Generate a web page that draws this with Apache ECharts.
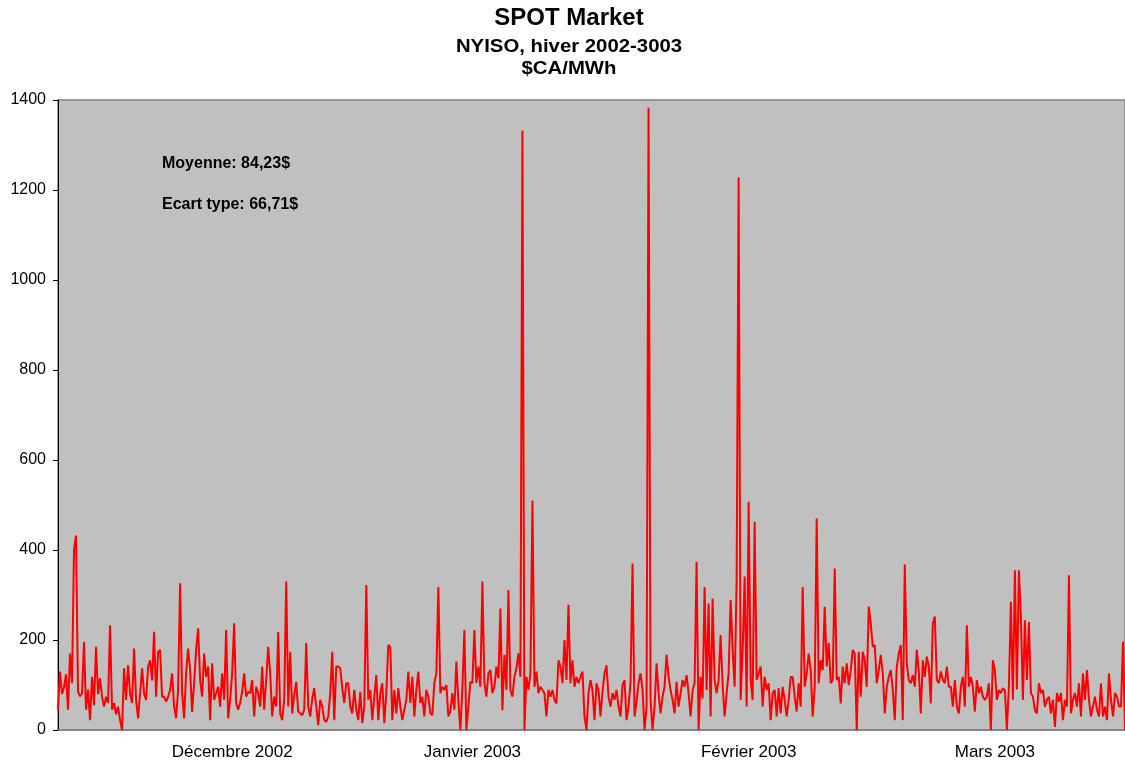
<!DOCTYPE html>
<html><head><meta charset="utf-8">
<script src="https://cdn.jsdelivr.net/npm/echarts@6/dist/echarts.min.js"></script>
<style>html,body{margin:0;padding:0;background:#fff}#c{width:1125px;height:764px}</style>
</head><body><div id="c"></div>
<script>
// Hourly spot prices ($CA/MWh), in six consecutive stretches
const pricesPart1 = [45,130,80,95,124,45,170,104,400,432,85,75,82,196,45,90,22,118,55,185,80,115,74,52,74,60,233,45,60,35,52,22,0,137,67,144,80,60,181,67,26,80,137,80,67,140,155,110,218,74,174,178,74,74,63,74,89,126,52,26,89,326,82,26,126,181,133,40,104,178,226,111,74,170,118,141,22,148,67,82,96,52,126,67,222,26,67,126,237];
const pricesPart2 = [60,45,60,85,126,74,85,82,111,30,96,82,52,141,45,111,185,126,30,74,52,218,37,22,67,330,52,174,37,78,107,41,37,33,45,193,52,30,70,93,52,11,67,52,22,18,30,82,174,22,141,141,137,93,60,104,104,52,37,89,45,22,85,15,52,322,67,89,22,74,122,22,82,104,15,82,189,185,22,89,37,93,52,22,45,67,130,60,118];
const pricesPart3 = [30,89,130,60,74,30,89,74,37,33,104,126,318,82,96,89,100,30,41,82,45,152,63,0,93,222,0,52,107,104,222,104,141,96,330,104,74,126,133,82,96,141,115,270,44,167,89,311,89,74,118,137,170,118,1332,0,118,89,126,510,96,130,82,96,89,82,30,89,74,89,67,59,155,141,104,200,111,278,104,155,96,118,104,118,130,30,0,82,111];
const pricesPart4 = [89,22,104,89,30,85,126,144,74,52,82,67,89,52,30,100,111,22,52,104,370,30,63,104,126,89,0,52,1383,67,0,52,148,82,37,74,96,167,118,89,67,37,107,52,82,111,96,122,82,30,89,104,374,0,118,70,318,89,281,30,292,111,82,111,211,100,30,82,126,289,178,96,333,1228,67,178,341,52,507,111,67,463,111,126,141,52,118,89,104];
const pricesPart5 = [22,82,89,30,93,37,96,67,30,67,118,118,74,41,104,52,318,96,126,170,133,30,96,470,104,155,133,274,141,193,104,111,359,111,118,59,141,104,148,100,133,178,170,0,174,74,174,155,96,274,237,185,189,104,133,167,126,37,96,118,133,89,22,141,170,189,22,368,148,111,104,122,96,178,130,37,155,118,163,141,59,237,252,111,104,130,111,104,141];
const pricesPart6 = [96,96,52,111,52,37,96,118,52,233,96,118,96,41,111,82,96,74,67,74,104,0,155,133,67,89,82,93,89,0,96,285,67,355,90,355,252,67,244,111,240,82,74,44,37,104,82,89,52,67,74,37,67,7,82,63,82,22,67,52,344,37,67,82,52,104,30,126,67,133,67,30,52,74,45,30,104,30,52,22,126,67,30,82,74,52,52,196,0];

const monthLabels = ['Décembre 2002', 'Janvier 2003', 'Février 2003', 'Mars 2003'];
const monthLabelIndex = [87, 207, 345, 468];

const titleText = 'SPOT Market';
const subtitleLines = ['NYISO, hiver 2002-3003', '$CA/MWh'];
const statLines = ['Moyenne: 84,23$', 'Ecart type: 66,71$'];

const yMin = 0, yMax = 1400, yStep = 200;

const prices = [].concat(pricesPart1, pricesPart2, pricesPart3, pricesPart4, pricesPart5, pricesPart6);
const categories = prices.map(function (_, i) { return 'h' + i; });

const FF = '"Liberation Sans", Arial, sans-serif';
function txt(x, y, text, size, bold, sx) {
  return {
    type: 'text', x: x, y: y, z: 100, scaleX: sx || 1,
    style: {
      text: text, font: (bold ? 'bold ' : '') + size + 'px ' + FF, fill: '#000',
      align: 'center', verticalAlign: 'middle', textAlign: 'center', textVerticalAlign: 'middle'
    }
  };
}
function txtL(x, y, text, size) {
  return {
    type: 'text', x: x, y: y, z: 100,
    style: {
      text: text, font: 'bold ' + size + 'px ' + FF, fill: '#000',
      align: 'left', verticalAlign: 'middle', textAlign: 'left', textVerticalAlign: 'middle'
    }
  };
}

const chart = echarts.init(document.getElementById('c'), null, { renderer: 'canvas' });
chart.setOption({
  animation: false,
  backgroundColor: '#ffffff',
  grid: {
    left: 58, right: 0, top: 100, bottom: 34,
    show: true, backgroundColor: '#C0C0C0', borderColor: '#808080', borderWidth: 1.5
  },
  graphic: [
    txt(569, 18.5, titleText, 24, true),
    txt(569, 47, subtitleLines[0], 18, true, 1.13),
    txt(569, 69, subtitleLines[1], 18, true, 1.13),
    txtL(162, 164, statLines[0], 16),
    txtL(162, 205, statLines[1], 16)
  ],
  xAxis: {
    type: 'category',
    data: categories,
    boundaryGap: false,
    axisLine: { show: true, lineStyle: { color: '#808080', width: 1.5 } },
    axisTick: { show: false },
    splitLine: { show: false },
    axisLabel: {
      interval: function (idx) { return monthLabelIndex.indexOf(idx) >= 0; },
      formatter: function (v, idx) {
        const k = monthLabelIndex.indexOf(idx);
        return k >= 0 ? monthLabels[k] : '';
      },
      color: '#000', fontSize: 17, fontFamily: FF, margin: 14
    }
  },
  yAxis: {
    type: 'value', min: yMin, max: yMax, interval: yStep,
    axisLine: { show: true, lineStyle: { color: '#000', width: 1 } },
    axisTick: { show: true, inside: false, length: 5, lineStyle: { color: '#000' } },
    splitLine: { show: false },
    axisLabel: {
      color: '#000', fontSize: 16, fontFamily: FF, margin: 12,
      formatter: function (v) { return String(v); }
    }
  },
  series: [{
    type: 'line',
    data: prices,
    showSymbol: false,
    symbol: 'none',
    sampling: null,
    lineStyle: { color: '#FF0000', width: 2 },
    itemStyle: { color: '#FF0000' },
    z: 5
  }]
});
</script>
</body></html>
